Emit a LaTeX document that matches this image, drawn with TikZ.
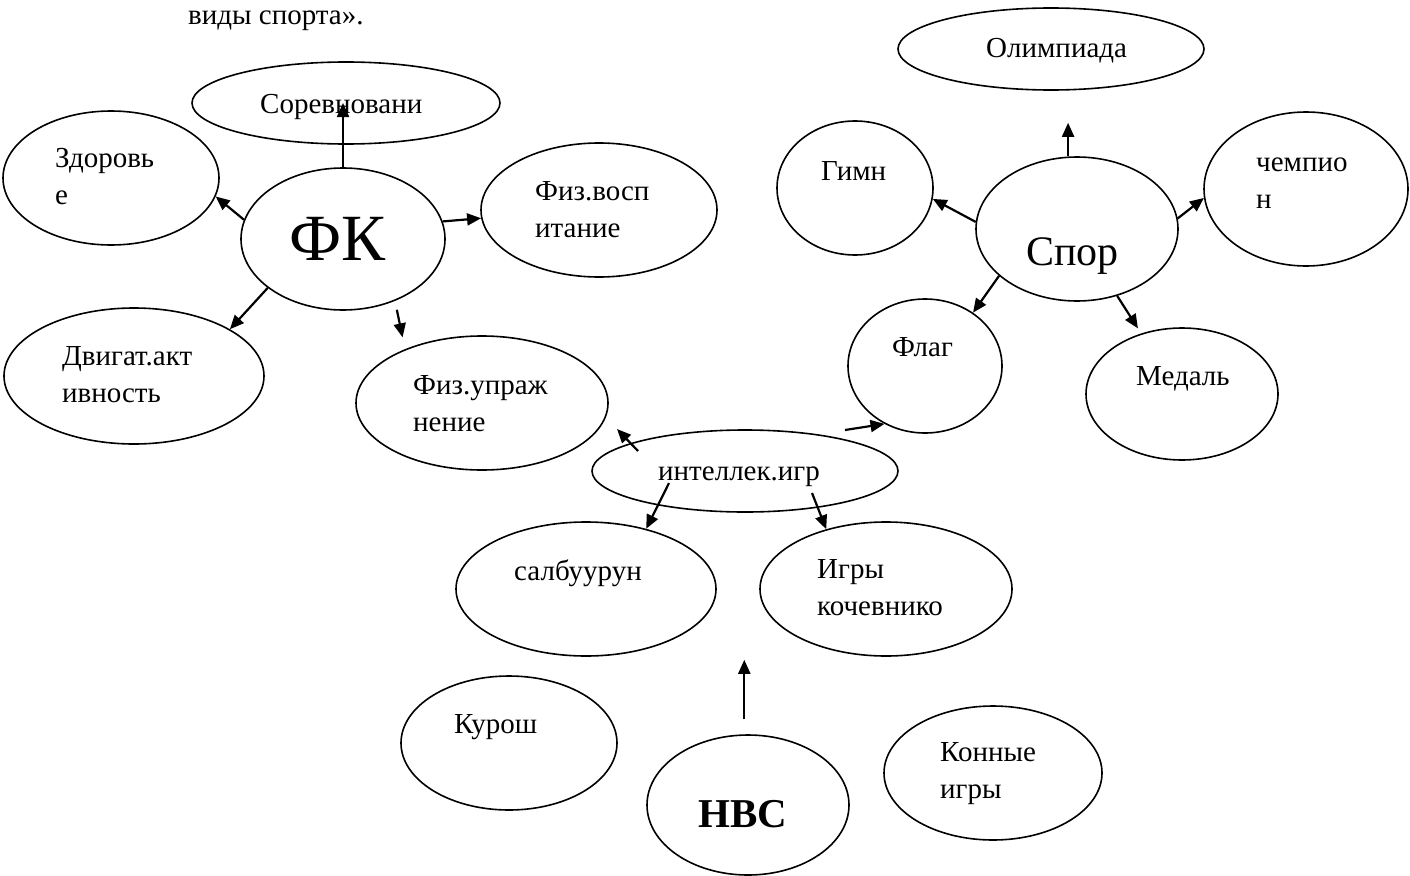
\documentclass[tikz,border=0pt]{standalone}
\usepackage{fontspec}
\setmainfont{Liberation Serif}
\usetikzlibrary{shapes.geometric,arrows.meta}

\tikzset{
  bubble/.style 2 args={draw, ellipse, line width=1.6pt, inner sep=0pt,
    minimum width=#1pt, minimum height=#2pt},
  txt/.style={anchor=base west, align=left, inner sep=0pt,
    font=\fontsize{29}{36.5}\selectfont},
  arr/.style={line width=2.2pt, -{Triangle[length=14pt,width=12pt]}}
}

\begin{document}
\begin{tikzpicture}[x=1pt,y=-1pt]
    \useasboundingbox (0,0) rectangle (1410,875);

    \node [txt] (title) at (188,25) {виды спорта».};

    \node [bubble={308}{82}] (sorev) at (346,103) {};
    \node [bubble={216}{134}] (zdor) at (111,178) {};
    \node [bubble={204}{142}] (fk) at (343,239) {};
    \node [bubble={236}{134}] (fizv) at (599,210) {};
    \node [bubble={260}{136}] (dvig) at (134,376) {};
    \node [bubble={252}{134}] (fizu) at (482,403) {};

    \node [bubble={306}{82}] (olimp) at (1051,49) {};
    \node [bubble={156}{134}] (gimn) at (855,188) {};
    \node [bubble={202}{144}] (spor) at (1077,229) {};
    \node [bubble={204}{154}] (chemp) at (1306,189) {};
    \node [bubble={154}{134}] (flag) at (925,366) {};
    \node [bubble={192}{132}] (medal) at (1182,394) {};

    \node [bubble={306}{82}] (intel) at (745,471) {};
    \node [bubble={260}{134}] (salb) at (586,589) {};
    \node [bubble={252}{134}] (igry) at (886,589) {};
    \node [bubble={216}{134}] (kurosh) at (509,743) {};
    \node [bubble={202}{140}] (nvc) at (748,805) {};
    \node [bubble={218}{134}] (konn) at (993,773) {};

    \node [txt] (sorevT) at (260,113) {Соревновани};
    \node [txt] (zdorT) at (55,204) {Здоровь\\е};
    \node [txt, font=\fontsize{66}{66}\selectfont] (fkT) at (289,260) {ФК};
    \node [txt] (fizvT) at (535,237) {Физ.восп\\итание};
    \node [txt] (dvigT) at (62,402) {Двигат.акт\\ивность};
    \node [txt] (fizuT) at (413,431) {Физ.упраж\\нение};

    \node [txt] (olimpT) at (986,58) {Олимпиада};
    \node [txt] (gimnT) at (821,180) {Гимн};
    \node [txt, font=\fontsize{42}{42}\selectfont] (sporT) at (1026,265) {Спор};
    \node [txt] (chempT) at (1256,208) {чемпио\\н};
    \node [txt] (flagT) at (892,356) {Флаг};
    \node [txt] (medalT) at (1136,385) {Медаль};

    \node [txt] (intelT) at (658,480) {интеллек.игр};
    \node [txt] (salbT) at (514,580) {салбуурун};
    \node [txt] (igryT) at (817,615) {Игры\\кочевнико};
    \node [txt] (kuroshT) at (454,733) {Курош};
    \node [txt, font=\bfseries\fontsize{41}{41}\selectfont] (nvcT) at (698,827) {НВС};
    \node [txt] (konnT) at (940,798) {Конные\\игры};

    \coordinate (iflag) at (845,430);
    \coordinate (ifizA) at (638,451);
    \coordinate (ifizB) at (617,429);
    \coordinate (isalb) at (669,483);
    \coordinate (iigry) at (812,493);

    \draw [arr] (fk.north) -- (fk.north |- sorev.center);
    \draw [arr] (fk.169) -- (zdor.350);
    \draw [arr] (fk.10) -- (fizv.184);
    \draw [arr] (fk.213) -- (dvig.26);
    \draw [arr, shorten <=9pt, shorten >=12pt] (fk.310) -- (fizu.145);

    \draw [arr, shorten >=32pt] (spor.97) -- (spor.97 |- olimp.south);
    \draw [arr] (spor.176) -- (gimn.352);
    \draw [arr] (spor.6) -- (chemp.185);
    \draw [arr] (spor.211) -- (flag.48);
    \draw [arr, shorten >=6pt] (spor.301) -- (medal.124);

    \draw [arr] (iflag) -- (flag.235);
    \draw [arr] (ifizA) -- (ifizB);
    \draw [arr] (isalb) -- (salb.45);
    \draw [arr] (iigry) -- (igry.135);
    \draw [arr, shorten <=15pt, shorten >=3pt] (nvc.93) -- (nvc.93 |- salb.south);
  \end{tikzpicture}
\end{document}
